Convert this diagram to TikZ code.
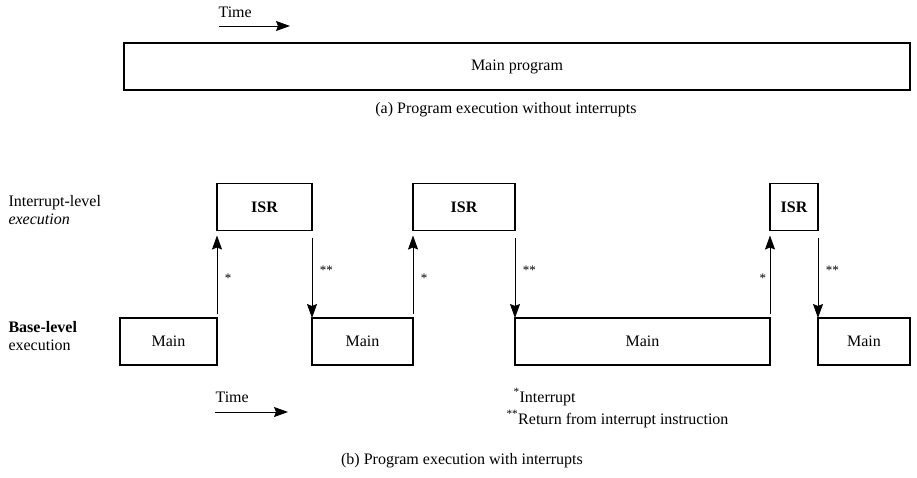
\documentclass[tikz,border=0pt]{standalone}
\usepackage{fontspec}
\setmainfont{Liberation Serif}
\usetikzlibrary{arrows.meta}

\begin{document}
\begin{tikzpicture}[x=1pt,y=-1pt,
		every node/.style={font=\fontsize{16}{18}\selectfont},
		blk/.style={draw,line width=1.7pt,outer sep=0pt,inner sep=0pt,minimum height=47pt},
		isrblk/.style={blk,font=\fontsize{16}{18}\selectfont\bfseries},
		flow/.style={line width=0.9pt,-{Stealth[length=14pt,width=10pt,inset=2pt]}},
		star/.style={right,xshift=4pt,font=\fontsize{13}{15}\selectfont}
	]
	\useasboundingbox (0,0) rectangle (917,477);
	
	\node[anchor=west] (timea) at (215,12) {Time};
	\coordinate (ta1) at (219,26);
	\coordinate (ta2) at (290,26);
	\draw[flow] (ta1) -- (ta2);
	\node[blk,minimum width=786pt] (prog) at (517,66.5) {Main program};
	\node (capa) at (506,110) {(a) Program execution without interrupts};
	
	\node[anchor=west,align=left] (ilvl) at (5,210) {Interrupt-level\\\textit{execution}};
	\node[anchor=west,align=left] (blvl) at (5,336) {\textbf{Base-level}\\execution};
	
	\node[blk,minimum width=97pt] (main1) at (168.5,341.5) {Main};
	\node[isrblk,minimum width=95pt] (isr1) at (264.5,207) {ISR};
	\node[blk,minimum width=101pt] (main2) at (362.5,341.5) {Main};
	\node[isrblk,minimum width=102pt] (isr2) at (464,207) {ISR};
	\node[blk,minimum width=255pt] (main3) at (642.5,341.5) {Main};
	\node[isrblk,minimum width=48pt] (isr3) at (794,207) {ISR};
	\node[blk,minimum width=92pt] (main4) at (864,341.5) {Main};
	
	\draw[flow,shorten <=4pt,shorten >=5pt] (main1.north east) -- (isr1.south west) node[star,pos=0.45] (s1) {*};
	\draw[flow,shorten <=7pt] (isr1.south east) -- (main2.north west) node[star,pos=0.45] (s2) {**};
	\draw[flow,shorten <=4pt,shorten >=5pt] (main2.north east) -- (isr2.south west) node[star,pos=0.45] (s3) {*};
	\draw[flow,shorten <=7pt] (isr2.south east) -- (main3.north west) node[star,pos=0.45] (s4) {**};
	\draw[flow,shorten <=4pt,shorten >=5pt] (main3.north east) -- (isr3.south west) node[star,left,xshift=-4pt,pos=0.45] (s5) {*};
	\draw[flow,shorten <=7pt] (isr3.south east) -- (main4.north west) node[star,pos=0.45] (s6) {**};
	
	\node[anchor=west] (timeb) at (212,397) {Time};
	\coordinate (tb1) at (215,412);
	\coordinate (tb2) at (288,412);
	\draw[flow] (tb1) -- (tb2);
	\node[anchor=west] (fn1) at (510,397) {\textsuperscript{*}Interrupt};
	\node[anchor=west] (fn2) at (503,419) {\textsuperscript{**}Return from interrupt instruction};
	\node (capb) at (462,461) {(b) Program execution with interrupts};
\end{tikzpicture}
\end{document}
